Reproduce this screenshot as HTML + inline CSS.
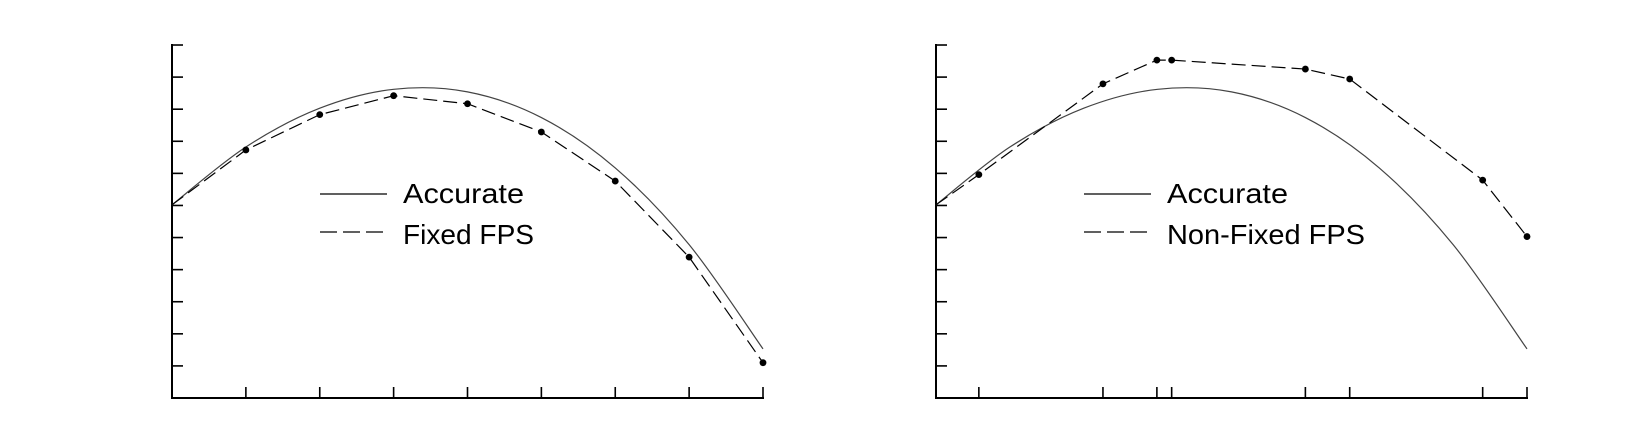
<!DOCTYPE html>
<html><head><meta charset="utf-8"><style>
html,body{margin:0;padding:0;background:#fff;}
svg{display:block;font-family:"Liberation Sans",sans-serif;}
</style></head><body>
<svg id="c" width="1650" height="429" viewBox="0 0 1650 429"></svg>
<script>
// shared data (x in time units 0..8, y in tick units 0..11)
const accurateT = [0,1,2,3,4,5,6,7,8];
const accurateY = [6.02,7.82,9.03,9.62,9.54,8.74,7.17,4.78,1.53];
const fixedT = [0,1,2,3,4,5,6,7,8];
const fixedY = [6.02,7.73,8.83,9.42,9.17,8.29,6.76,4.39,1.10];
const nonFixedT = [0,0.58,2.26,2.99,3.19,5.0,5.6,7.4,8];
const nonFixedY = [6.02,6.96,9.79,10.53,10.53,10.25,9.94,6.79,5.03];
const yTicks = [1,2,3,4,5,6,7,8,9,10,11];
const leftXTicks = [1,2,3,4,5,6,7,8];
const rightXTicks = [0.58,2.26,2.99,3.19,5.0,5.6,7.4,8];

const NS='http://www.w3.org/2000/svg';
const svg=document.getElementById('c');
function mk(tag,attrs,parent){const e=document.createElementNS(NS,tag);for(const k in attrs)e.setAttribute(k,attrs[k]);(parent||svg).appendChild(e);return e;}

function chart(x0,name,xTicks,series2T,series2Y,label2){
  const g=mk('g',{});
  
  
  const xs=t=>x0+t*73.875;
  const ys=v=>398-v*32.09;
  const ax=mk('path',{d:`M${x0} 44V398H${xs(8)+1}`,fill:'none',stroke:'#000','stroke-width':2},g);
  
  
  yTicks.forEach(v=>{const t=mk('line',{x1:x0,x2:x0+11,y1:ys(v),y2:ys(v),stroke:'#000','stroke-width':1.6},g);
    
    });
  xTicks.forEach(v=>{const t=mk('line',{x1:xs(v),x2:xs(v),y1:398,y2:387,stroke:'#000','stroke-width':1.6},g);
    
    });
  const P=accurateT.map((t,i)=>[xs(t),ys(accurateY[i])]);
  let d=`M${P[0][0]} ${P[0][1]}`;
  for(let i=0;i<P.length-1;i++){
    const p0=P[Math.max(0,i-1)],p1=P[i],p2=P[i+1],p3=P[Math.min(P.length-1,i+2)];
    const c1=[p1[0]+(p2[0]-p0[0])/6,p1[1]+(p2[1]-p0[1])/6];
    const c2=[p2[0]-(p3[0]-p1[0])/6,p2[1]-(p3[1]-p1[1])/6];
    d+=` C${c1[0]} ${c1[1]} ${c2[0]} ${c2[1]} ${p2[0]} ${p2[1]}`;
  }
  const acc=mk('path',{d,fill:'none',stroke:'#444','stroke-width':1.2},g);
  
  
  const pts=series2T.map((t,i)=>xs(t)+','+ys(series2Y[i])).join(' ');
  const dl=mk('polyline',{points:pts,fill:'none',stroke:'#000','stroke-width':1.2,'stroke-dasharray':'14 6'},g);
  
  
  series2T.forEach((t,i)=>{if(i===0)return;
    const c=mk('circle',{cx:xs(t),cy:ys(series2Y[i]),r:3.4,fill:'#000'},g);
    
    });
  const lx=x0+148;
  const l1=mk('line',{x1:lx,x2:lx+67,y1:194,y2:194,stroke:'#000','stroke-width':1.3},g);
  
  
  const t1=mk('text',{x:lx+83,y:203,'font-size':28,textLength:121,lengthAdjust:'spacingAndGlyphs'},g);
  t1.textContent='Accurate';
  
  
  const l2=mk('line',{x1:lx,x2:lx+67,y1:232,y2:232,stroke:'#000','stroke-width':1.3,'stroke-dasharray':'17 6'},g);
  
  
  const t2=mk('text',{x:lx+83,y:244,'font-size':28,textLength:label2.length>10?198:131,lengthAdjust:'spacingAndGlyphs'},g);
  t2.textContent=label2;
  
  
}
chart(172,'fixed-fps-chart',leftXTicks,fixedT,fixedY,'Fixed FPS');
chart(936,'non-fixed-fps-chart',rightXTicks,nonFixedT,nonFixedY,'Non-Fixed FPS');
</script>
</body></html>
